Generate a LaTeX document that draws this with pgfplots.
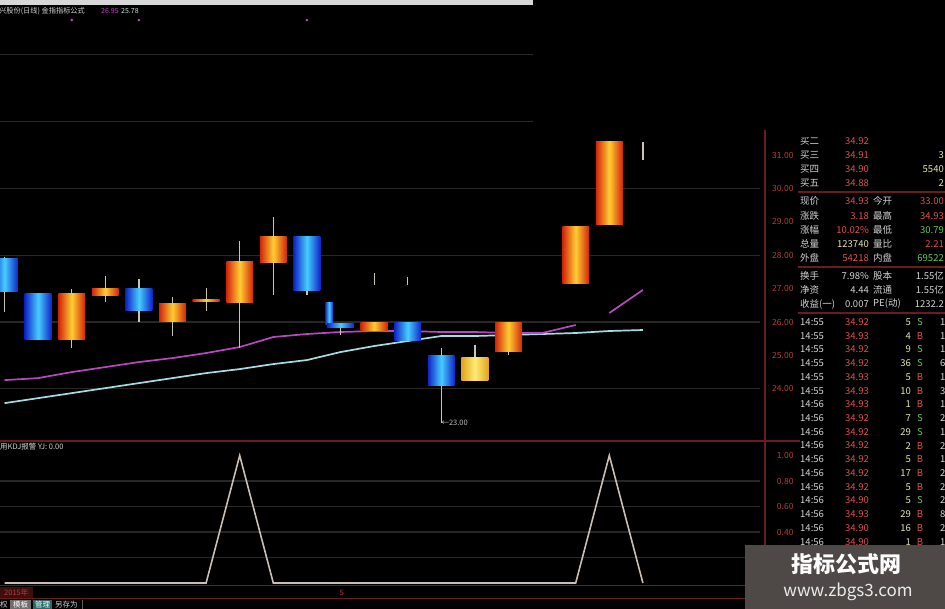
\documentclass[border=0pt]{standalone}
\usepackage{pgfplots}
\pgfplotsset{compat=1.18}
\usepackage{fontspec}
\setmainfont{Noto Sans CJK SC}
\definecolor{upedge}{RGB}{210,35,10}
\definecolor{upmid}{RGB}{255,205,50}
\definecolor{dnedge}{RGB}{15,35,200}
\definecolor{dnmid}{RGB}{70,205,255}
\definecolor{yledge}{RGB}{225,165,25}
\definecolor{ylmid}{RGB}{255,235,120}
\definecolor{wick}{RGB}{205,195,180}
\definecolor{maP}{RGB}{185,70,195}
\definecolor{maC}{RGB}{165,220,225}
\definecolor{gridc}{RGB}{42,38,38}
\definecolor{redline}{RGB}{105,28,28}
\definecolor{axred}{RGB}{185,60,60}
\definecolor{txt}{RGB}{212,212,212}
\definecolor{pr}{RGB}{228,78,78}
\definecolor{gr}{RGB}{95,200,95}
\definecolor{ylw}{RGB}{228,228,175}
\definecolor{kdj}{RGB}{205,190,180}
\definecolor{wm}{RGB}{78,73,70}
\definecolor{dot}{RGB}{200,70,200}
\definecolor{topbar}{RGB}{215,215,215}
\definecolor{lowlbl}{RGB}{190,190,190}
\definecolor{cyantxt}{RGB}{205,225,225}
\definecolor{yearbg}{RGB}{60,14,14}
\definecolor{tabgray}{RGB}{110,110,110}
\definecolor{tabteal}{RGB}{40,105,105}
\definecolor{sepgray}{RGB}{90,90,90}
\definecolor{wmtxt}{RGB}{235,235,235}
\tikzset{
  cup/.style={left color=upedge,right color=upedge,middle color=upmid,draw=none},
  cdn/.style={left color=dnedge,right color=dnedge,middle color=dnmid,draw=none},
  cyl/.style={left color=yledge,right color=yledge,middle color=ylmid,draw=none},
}
\newcommand\tf{\fontsize{9.5}{10}\selectfont}
\newcommand\lab[3]{\node[anchor=west,inner sep=0,text=txt,font=\tf] at (#1,#2) {#3};}
\newcommand\valr[4]{\node[anchor=east,inner sep=0,text=#3,font=\tf] at (#1,#2) {#4};}
\newcommand\trade[7]{%
  \node[anchor=west,inner sep=0,text=txt,font=\tf] at (800,#1) {#2};
  \node[anchor=east,inner sep=0,text=pr,font=\tf] at (869,#1) {#3};
  \node[anchor=east,inner sep=0,text=ylw,font=\tf] at (911,#1) {#4};
  \node[anchor=center,inner sep=0,text=#6,font=\tf] at (920,#1) {#5};
  \node[anchor=west,inner sep=0,text=txt,font=\tf] at (940,#1) {#7};
}
\pgfplotsset{
  panel/.style={
    scale only axis, width=760pt,
    xmin=-0.134, xmax=22.485,
    axis line style={draw=none}, tick style={draw=none},
    major tick length=0pt,
    xtick=\empty,
    yticklabel pos=right,
    yticklabel style={font=\fontsize{8.5}{9}\selectfont, text=axred, anchor=east, xshift=37pt},
    /pgf/number format/fixed,
    /pgf/number format/fixed zerofill,
    /pgf/number format/precision=2,
    /pgf/number format/assume math mode=true,
    extra y tick labels={},
    extra y tick style={grid=major, major grid style={gridc, line width=1.2pt}},
    clip=true,
  }
}
\begin{document}
\begin{tikzpicture}
\useasboundingbox (0,0) rectangle (945pt,609pt);
\fill[black] (0,0) rectangle (945pt,609pt);
\begin{scope}
\clip (0,0) rectangle (945pt,609pt);

% ---------------- price panel ----------------
\begin{axis}[panel,
  at={(0pt,169pt)}, anchor=south west, height=440pt,
  ymin=22.467, ymax=35.641,
  ytick={24,25,...,31},
  extra y ticks={24,26,28,30},
]
\draw[gridc, line width=1.2pt] (axis cs:-0.134,32) -- (axis cs:15.73,32);
\draw[gridc, line width=1.2pt] (axis cs:-0.134,34) -- (axis cs:15.73,34);
% moving averages
\addplot[maC, line width=1.7pt] coordinates {
(0,23.57) (1,23.72) (2,23.87) (3,24.02) (4,24.17) (5,24.32) (6,24.47) (7,24.59)
(8,24.74) (9,24.86) (10,25.10) (11,25.28) (12,25.43) (13,25.58) (14,25.58)
(15,25.61) (16,25.64) (17,25.67) (18,25.73) (19,25.76)};
\addplot[maP, line width=1.7pt, unbounded coords=jump] coordinates {
(0,24.26) (1,24.32) (2,24.50) (3,24.65) (4,24.80) (5,24.92) (6,25.07) (7,25.25)
(8,25.55) (9,25.64) (10,25.70) (11,25.73) (12,25.73) (13,25.70) (14,25.70)
(15,25.67) (16,25.67) (17,25.91) (17.5,nan) (18,26.27) (19,26.96)};
% wicks
\addplot[wick, line width=1.2pt, unbounded coords=jump] coordinates {
(0,26.30) (0,27.95) (0,nan)
(2,25.22) (2,26.99) (2,nan)
(3,26.60) (3,27.38) (3,nan)
(4,26.00) (4,27.29) (4,nan)
(5,25.58) (5,26.75) (5,nan)
(6,26.33) (6,27.02) (6,nan)
(7,25.22) (7,28.43) (7,nan)
(8,26.81) (8,29.14) (8,nan)
(9,26.81) (9,28.57) (9,nan)
(10,25.61) (10,25.94) (10,nan)
(11,27.11) (11,27.47) (11,nan)
(12,27.11) (12,27.35) (12,nan)
(13,22.98) (13,25.22) (13,nan)
(14,24.26) (14,25.31) (14,nan)
(15,25.01) (15,25.97) (15,nan)
(19,30.85) (19,31.39)};
% candle bodies
\addplot[cdn] coordinates {(-0.4,26.90) (0.4,26.90) (0.4,27.89) (-0.4,27.89)};
\addplot[cdn] coordinates {(0.6,25.49) (1.4,25.49) (1.4,26.84) (0.6,26.84)};
\addplot[cup] coordinates {(1.6,25.49) (2.4,25.49) (2.4,26.84) (1.6,26.84)};
\addplot[cup] coordinates {(2.6,26.78) (3.4,26.78) (3.4,26.99) (2.6,26.99)};
\addplot[cdn] coordinates {(3.6,26.33) (4.4,26.33) (4.4,26.99) (3.6,26.99)};
\addplot[cup] coordinates {(4.6,26.00) (5.4,26.00) (5.4,26.54) (4.6,26.54)};
\addplot[cup] coordinates {(5.6,26.60) (6.4,26.60) (6.4,26.66) (5.6,26.66)};
\addplot[cup] coordinates {(6.6,26.57) (7.4,26.57) (7.4,27.80) (6.6,27.80)};
\addplot[cup] coordinates {(7.6,27.77) (8.4,27.77) (8.4,28.57) (7.6,28.57)};
\addplot[cdn] coordinates {(8.6,26.93) (9.4,26.93) (9.4,28.57) (8.6,28.57)};
\addplot[cdn] coordinates {(9.54,25.91) (9.78,25.91) (9.78,26.57) (9.54,26.57)};
\addplot[cdn] coordinates {(9.6,25.85) (10.4,25.85) (10.4,25.94) (9.6,25.94)};
\addplot[cup] coordinates {(10.6,25.76) (11.4,25.76) (11.4,25.97) (10.6,25.97)};
\addplot[cdn] coordinates {(11.6,25.46) (12.4,25.46) (12.4,25.97) (11.6,25.97)};
\addplot[cdn] coordinates {(12.6,24.11) (13.4,24.11) (13.4,25.01) (12.6,25.01)};
\addplot[cyl] coordinates {(13.6,24.26) (14.4,24.26) (14.4,24.95) (13.6,24.95)};
\addplot[cup] coordinates {(14.6,25.13) (15.4,25.13) (15.4,25.97) (14.6,25.97)};
\addplot[cup] coordinates {(16.6,27.14) (17.4,27.14) (17.4,28.87) (16.6,28.87)};
\addplot[cup] coordinates {(17.6,28.93) (18.4,28.93) (18.4,31.39) (17.6,31.39)};
% signal dots
\addplot[only marks, mark=*, mark size=1.1pt, dot] coordinates {(2,35.04) (4,35.04) (9,35.04)};
\node[anchor=west, inner sep=0, text=lowlbl, font=\fontsize{7.5}{8}\selectfont] at (axis cs:13,22.98) {←23.00};
\end{axis}

% ---------------- KDJ panel ----------------
\begin{axis}[panel,
  at={(0pt,23pt)}, anchor=south west, height=145pt,
  ymin=-0.0235, ymax=1.1137,
  ytick={0.4,0.6,0.8,1.0},
  extra y ticks={0.2,0.4,0.6,0.8},
]
\addplot[kdj, line width=1.6pt] coordinates {
(0,0) (1,0) (2,0) (3,0) (4,0) (5,0) (6,0) (7,1) (8,0) (9,0) (10,0)
(11,0) (12,0) (13,0) (14,0) (15,0) (16,0) (17,0) (18,1) (19,0)};
\end{axis}

% ---------------- decorations in pixel coordinates ----------------
\begin{scope}[x=1pt,y=-1pt,yshift=609pt]
\fill[topbar] (0,0) rectangle (533,5);
\node[anchor=west,inner sep=0,text=txt,font=\fontsize{7.2}{8}\selectfont] at (-1,11) {兴股份(日线) 金指指标公式};
\node[anchor=west,inner sep=0,text=dot,font=\fontsize{7}{8}\selectfont] at (101,11) {26.95};
\node[anchor=west,inner sep=0,text=cyantxt,font=\fontsize{7}{8}\selectfont] at (121,11) {25.78};

% separators
\draw[redline, line width=1.2pt] (765,130) -- (765,545);
\draw[redline, line width=1.2pt] (0,441) -- (800,441);
\draw[redline, line width=1.2pt] (798,192) -- (945,192);
\draw[redline, line width=1.2pt] (798,267) -- (945,267);
\draw[redline, line width=1.2pt] (798,313) -- (945,313);
\draw[redline, line width=1pt] (0,586) -- (745,586);
\draw[redline, line width=1pt] (0,599) -- (745,599);

% quote table
\lab{800}{141}{买二} \valr{869}{141}{pr}{34.92}
\fill[black] (790,126) rectangle (945,137);
\lab{800}{155}{买三} \valr{869}{155}{pr}{34.91} \valr{944}{155}{ylw}{3}
\lab{800}{169}{买四} \valr{944}{169}{ylw}{5540} \valr{869}{169}{pr}{34.90}
\lab{800}{183}{买五} \valr{869}{183}{pr}{34.88} \valr{944}{183}{ylw}{2}
\lab{800}{201}{现价} \valr{869}{201}{pr}{34.93} \lab{873}{201}{今开} \valr{944}{201}{pr}{33.00}
\lab{800}{216}{涨跌} \valr{869}{216}{pr}{3.18}  \lab{873}{216}{最高} \valr{944}{216}{pr}{34.93}
\lab{800}{230}{涨幅} \valr{869}{230}{pr}{10.02\%} \lab{873}{230}{最低} \valr{944}{230}{gr}{30.79}
\lab{800}{244}{总量} \valr{869}{244}{ylw}{123740} \lab{873}{244}{量比} \valr{944}{244}{pr}{2.21}
\lab{800}{258}{外盘} \valr{869}{258}{pr}{54218} \lab{873}{258}{内盘} \valr{944}{258}{gr}{69522}
\lab{800}{276}{换手} \valr{869}{276}{txt}{7.98\%} \lab{873}{276}{股本} \valr{944}{276}{txt}{1.55亿}
\lab{800}{290}{净资} \valr{869}{290}{txt}{4.44} \lab{873}{290}{流通} \valr{944}{290}{txt}{1.55亿}
\lab{800}{304}{收益(一)} \valr{869}{304}{txt}{0.007} \lab{873}{304}{PE(动)} \valr{944}{304}{txt}{1232.2}

\trade{322}{14:55}{34.92}{5}{S}{gr}{1}
\trade{335.7}{14:55}{34.93}{4}{B}{pr}{1}
\trade{349.5}{14:55}{34.92}{9}{S}{gr}{1}
\trade{363.2}{14:55}{34.92}{36}{S}{gr}{6}
\trade{376.9}{14:55}{34.93}{5}{B}{pr}{1}
\trade{390.7}{14:55}{34.93}{10}{B}{pr}{3}
\trade{404.4}{14:56}{34.93}{1}{B}{pr}{1}
\trade{418.1}{14:56}{34.92}{7}{S}{gr}{2}
\trade{431.8}{14:56}{34.92}{29}{S}{gr}{1}
\trade{445.6}{14:56}{34.92}{2}{B}{pr}{2}
\trade{459.3}{14:56}{34.92}{5}{B}{pr}{1}
\trade{473.0}{14:56}{34.92}{17}{B}{pr}{2}
\trade{486.8}{14:56}{34.92}{5}{B}{pr}{2}
\trade{500.5}{14:56}{34.90}{5}{S}{gr}{2}
\trade{514.2}{14:56}{34.93}{29}{B}{pr}{8}
\trade{527.9}{14:56}{34.90}{16}{B}{pr}{2}
\trade{541.7}{14:56}{34.90}{1}{B}{pr}{1}

% indicator title
\node[anchor=west,inner sep=0,text=txt,font=\fontsize{7.5}{8}\selectfont] at (0,447) {用KDJ报警 YJ: 0.00};

% bottom strips
\fill[yearbg] (0,587) rectangle (33,598);
\node[anchor=west,inner sep=0,text=axred,font=\fontsize{7.5}{8}\selectfont] at (4,592.5) {2015年};
\node[anchor=center,inner sep=0,text=axred,font=\fontsize{7.5}{8}\selectfont] at (342,592.5) {5};
\node[anchor=west,inner sep=0,text=txt,font=\fontsize{7.5}{8}\selectfont] at (0,604.5) {权};
\fill[tabgray] (10,600) rectangle (31,609);
\node[anchor=center,inner sep=0,text=white,font=\fontsize{7.5}{8}\selectfont] at (20.5,604.5) {模板};
\fill[tabteal] (33,600) rectangle (52,609);
\node[anchor=center,inner sep=0,text=white,font=\fontsize{7.5}{8}\selectfont] at (42.5,604.5) {管理};
\node[anchor=west,inner sep=0,text=txt,font=\fontsize{7.5}{8}\selectfont] at (55,604.5) {另存为};
\draw[sepgray, line width=0.8pt] (82,600) -- (82,609);

% watermark
\fill[wm] (745,545) rectangle (945,609);
\node[anchor=center,inner sep=0,text=white,font=\fontsize{22}{24}\selectfont\bfseries] at (846,564) {指标公式网};
\node[anchor=center,inner sep=0,text=wmtxt,font=\fontsize{17}{18}\selectfont] at (848,592) {www.zbgs3.com};
\end{scope}
\end{scope}
\end{tikzpicture}
\end{document}
